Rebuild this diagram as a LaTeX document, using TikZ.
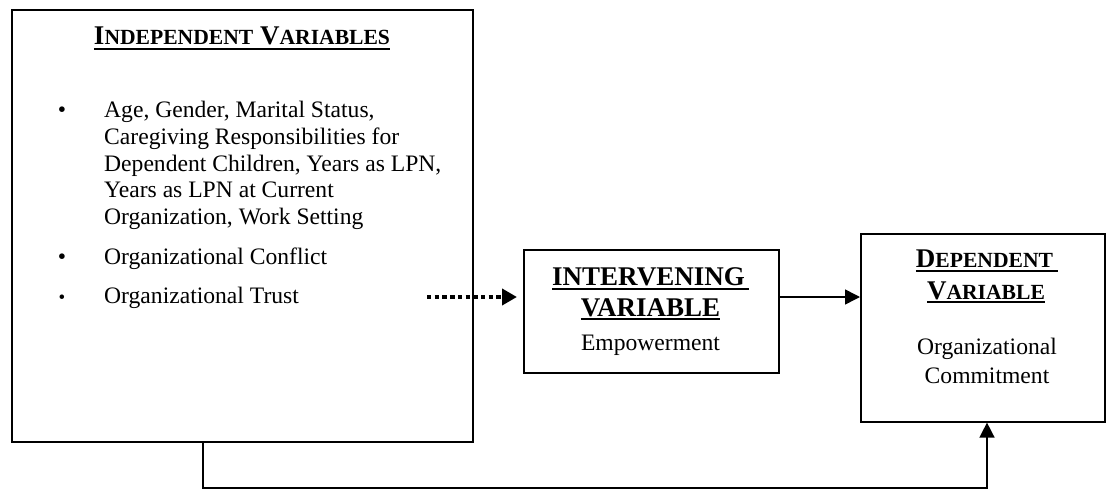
\documentclass[tikz,border=0pt]{standalone}
\usepackage{fontspec}
\setmainfont{Liberation Serif}
\usetikzlibrary{arrows.meta}

% thick underline drawn under a box of text
\newcommand\ulbar[2][-4.2pt]{\setbox0\hbox{#2}\rlap{\rule[#1]{\wd0}{1.9pt}}\box0}
% capital letter followed by reduced capitals
\newcommand\capsc[2]{#1{\fontsize{21.6}{26}\selectfont #2}}

\begin{document}
\begin{tikzpicture}[x=1pt,y=-1pt,
  box/.style={draw, line width=1.6pt, rectangle, inner sep=0pt, anchor=north west},
  txt/.style={inner sep=0pt, font=\fontsize{23.6}{26.8}\selectfont},
  head/.style={inner sep=0pt, anchor=base, font=\fontsize{27}{32}\selectfont\bfseries},
  link/.style={line width=1.5pt, -{Triangle[length=15pt,width=15pt]}},
  dotlink/.style={line width=4pt, dash pattern=on 4.4pt off 3.3pt,
    -{Triangle[length=15pt,width=16pt]}},
]
\useasboundingbox (0,0) rectangle (1106,489);

% boxes
\node[box, minimum width=461pt, minimum height=432pt] (indep) at (11,9) {};
\node[box, minimum width=255pt, minimum height=123pt] (inter) at (523,249) {};
\node[box, minimum width=244pt, minimum height=188pt] (dep) at (860,233) {};

% independent variables
\node[head] (indeptitle) at (242,45)
  {\ulbar[-5pt]{\capsc{I}{NDEPENDENT} \capsc{V}{ARIABLES}}};
\node[txt, anchor=base] (bul1) at (62,118) {•};
\node[txt, anchor=base west] (ln1) at (104,118) {Age, Gender, Marital Status,};
\node[txt, anchor=base west] (ln2) at (104,145) {Caregiving Responsibilities for};
\node[txt, anchor=base west] (ln3) at (104,172) {Dependent Children, Years as LPN,};
\node[txt, anchor=base west] (ln4) at (104,198) {Years as LPN at Current};
\node[txt, anchor=base west] (ln5) at (104,225) {Organization, Work Setting};
\node[txt, anchor=base] (bul2) at (62,265) {•};
\node[txt, anchor=base west] (ln6) at (104,265) {Organizational Conflict};
\node[txt, anchor=base, font=\fontsize{19}{22}\selectfont] (bul3) at (62,303) {•};
\node[txt, anchor=base west] (ln7) at (104,303) {Organizational Trust};

% intervening variable
\node[head] (intert1) at (650.5,286) {\ulbar{INTERVENING\kern4pt}};
\node[head] (intert2) at (650.5,316) {\ulbar{VARIABLE}};
\node[txt, anchor=base] (intert3) at (650.5,350) {Empowerment};

% dependent variable
\node[head] (dept1) at (987,268) {\ulbar{\capsc{D}{EPENDENT}\kern5pt}};
\node[head] (dept2) at (986,299) {\ulbar{\capsc{V}{ARIABLE}}};
\node[txt, anchor=base] (dept3) at (987,354) {Organizational};
\node[txt, anchor=base] (dept4) at (987,383) {Commitment};

% connectors
\coordinate (dotstart) at (427,297);
\coordinate (loopbase) at (0,488);
\draw[dotlink, shorten >=6pt] (dotstart) -- (dotstart -| inter.west);
\draw[link] (inter.east |- dotstart) -- (dep.west |- dotstart);
\coordinate (loopfrom) at ([xshift=192pt]indep.south west);
\coordinate (loopto) at ([xshift=127pt]dep.south west);
\draw[link] (loopfrom) -- (loopfrom |- loopbase) -- (loopto |- loopbase) -- (loopto);
\end{tikzpicture}
\end{document}
